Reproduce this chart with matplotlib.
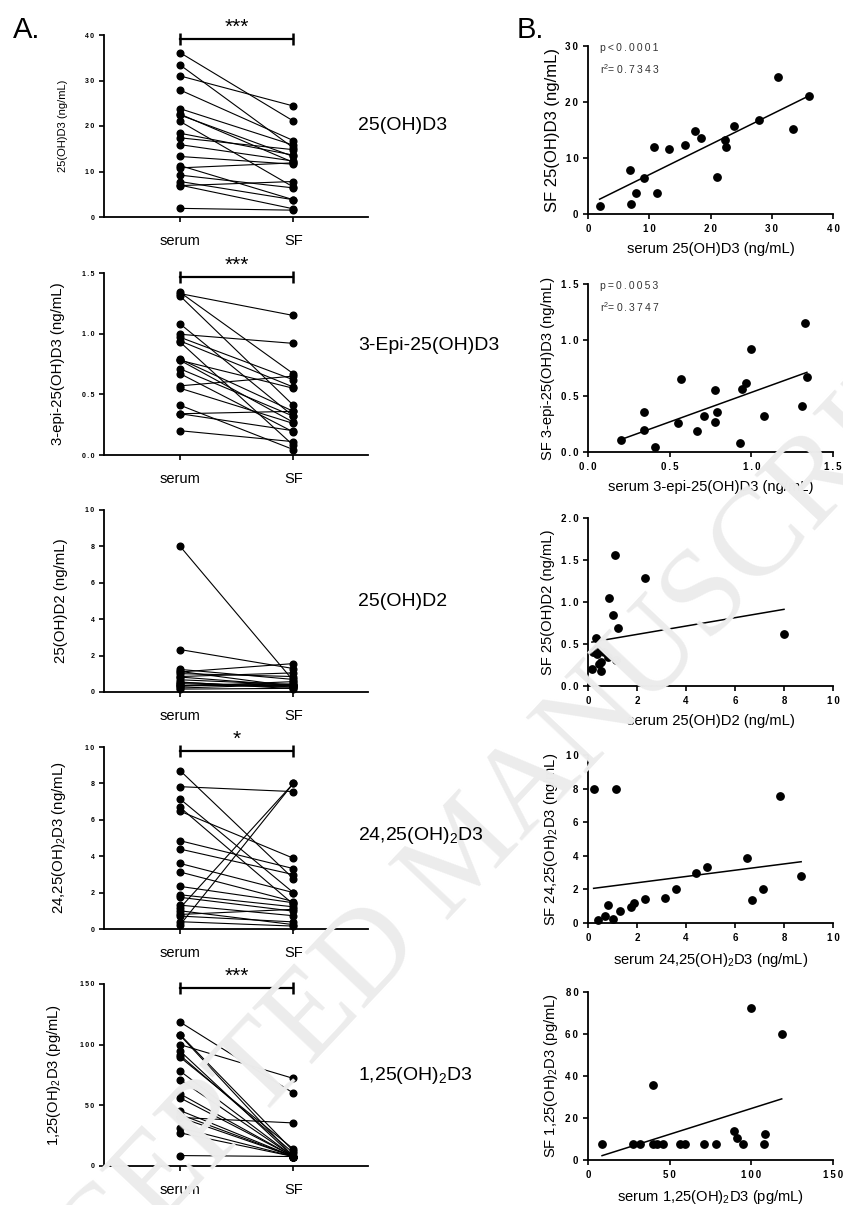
import numpy as np
import matplotlib.pyplot as plt

plt.rcParams['font.family'] = ['Liberation Sans', 'DejaVu Sans']
plt.rcParams['mathtext.fontset'] = 'custom'
plt.rcParams['mathtext.rm'] = 'Liberation Sans'

# paired serum / synovial fluid values, one list per metabolite
d3_serum = [1.9, 7.0, 6.9, 7.8, 9.2, 10.8, 11.3, 13.3, 15.9, 17.4, 18.4, 21.0, 22.4, 22.6, 23.8, 27.9, 31.0, 33.4, 36.1]
d3_sf = [1.5, 1.8, 7.8, 3.8, 6.4, 11.9, 3.8, 11.6, 12.3, 14.8, 13.6, 6.6, 13.3, 12.0, 15.8, 16.8, 24.4, 15.2, 21.1]

epi_serum = [0.20, 0.34, 0.34, 0.41, 0.55, 0.57, 0.67, 0.71, 0.78, 0.78, 0.79, 0.93, 0.94, 0.97, 0.995, 1.08, 1.31, 1.33, 1.34]
epi_sf = [0.11, 0.20, 0.36, 0.045, 0.26, 0.65, 0.19, 0.32, 0.55, 0.27, 0.36, 0.08, 0.56, 0.62, 0.92, 0.32, 0.41, 1.15, 0.67]

d2_serum = [0.16, 0.22, 0.31, 0.35, 0.38, 0.46, 0.52, 0.55, 0.67, 0.82, 0.85, 1.01, 1.10, 1.13, 1.24, 2.33, 8.0]
d2_sf = [0.20, 0.41, 0.57, 0.44, 0.38, 0.26, 0.28, 0.18, 0.41, 0.35, 1.05, 0.85, 1.56, 0.31, 0.69, 1.29, 0.62]

d24_serum = [0.23, 1.16, 7.82, 6.47, 4.85, 4.39, 8.7, 3.6, 7.14, 0.4, 0.71, 0.8, 1.0, 1.31, 1.74, 1.88, 2.34, 3.13, 6.68]
d24_sf = [8.0, 8.0, 7.55, 3.89, 3.32, 2.99, 2.77, 2.0, 2.0, 0.16, 0.39, 1.08, 0.24, 0.73, 0.98, 1.22, 1.44, 1.51, 1.36]

d125_serum = [8.6, 27.3, 31.6, 40.0, 40.0, 42.4, 45.7, 56.1, 59.4, 71.0, 78.2, 89.6, 91.2, 94.7, 100.0, 107.6, 108.2, 118.6]
d125_sf = [7.8, 7.8, 7.8, 35.5, 7.8, 7.8, 7.8, 7.8, 7.8, 7.8, 7.8, 14.0, 10.7, 7.8, 72.2, 7.8, 12.4, 60.1]

serums = [d3_serum, epi_serum, d2_serum, d24_serum, d125_serum]
sfs = [d3_sf, epi_sf, d2_sf, d24_sf, d125_sf]

names = ["25(OH)D3", "3-Epi-25(OH)D3", "25(OH)D2",
         "24,25(OH)$_\\mathregular{2}$D3", "1,25(OH)$_\\mathregular{2}$D3"]
left_ylabels = ["25(OH)D3 (ng/mL)", "3-epi-25(OH)D3 (ng/mL)", "25(OH)D2 (ng/mL)",
                "24,25(OH)$_\\mathregular{2}$D3 (ng/mL)", "1,25(OH)$_\\mathregular{2}$D3 (pg/mL)"]
right_ylabels = ["SF " + s for s in left_ylabels]
right_xlabels = ["serum " + s for s in left_ylabels]
left_yticks = [[0, 10, 20, 30, 40], [0.0, 0.5, 1.0, 1.5], [0, 2, 4, 6, 8, 10],
               [0, 2, 4, 6, 8, 10], [0, 50, 100, 150]]
right_xticks = [[0, 10, 20, 30, 40], [0.0, 0.5, 1.0, 1.5], [0, 2, 4, 6, 8, 10],
                [0, 2, 4, 6, 8, 10], [0, 50, 100, 150]]
right_yticks = [[0, 10, 20, 30], [0.0, 0.5, 1.0, 1.5], [0.0, 0.5, 1.0, 1.5, 2.0],
                [0, 2, 4, 6, 8, 10], [0, 20, 40, 60, 80]]
tick_fmt = ["%d", "%.1f", "%d", "%d", "%d"]
right_yfmt = ["%d", "%.1f", "%.1f", "%d", "%d"]
stars = ["***", "***", "", "*", "***"]
fit_slope = [0.54, 0.527, 0.0497, 0.187, 0.2457]
fit_intercept = [1.62, 0.005, 0.515, 2.02, -0.04]
stats = [("p<0.0001", "0.7343"), ("p=0.0053", "0.3747"), None, None, None]

W, H = 843, 1205
fig = plt.figure(figsize=(W / 100, H / 100), dpi=100)

fig.text(0.555, 0.29, "ACCEPTED MANUSCRIPT", family="Liberation Serif", fontsize=90,
         color="#ececec", rotation=46.7, ha="center", va="center", zorder=0)


def add_ax(x0, ybot, w, h):
    ax = fig.add_axes([x0 / W, 1 - ybot / H, w / W, h / H])
    ax.patch.set_visible(False)
    for s in ["top", "right"]:
        ax.spines[s].set_visible(False)
    for s in ["left", "bottom"]:
        ax.spines[s].set_linewidth(1.3)
    ax.tick_params(width=1.2, length=3.5, direction="out")
    return ax


def spaced(s, sep="\u2009"):
    return sep.join(s)


left_bottoms = [217, 455, 692, 929, 1166]
right_bottoms = [214, 452, 686, 923, 1160]
left_lab_size = [8, 10.8, 10.8, 10.8, 10.6]
right_lab_size = [12, 10.6, 10.6, 10.6, 10.6]
label_y = [126, 346, 601, 835, 1075]

for i in range(5):
    # A: paired serum vs SF
    ax = add_ax(104, left_bottoms[i], 264, 182)
    yt = left_yticks[i]
    for s, f in zip(serums[i], sfs[i]):
        ax.plot([0, 1], [s, f], color="black", lw=0.8, marker="o", ms=4.8, clip_on=False)
    ax.set_xlim(-0.673, 1.66)
    ax.set_ylim(yt[0], yt[-1])
    ax.set_yticks(yt)
    ax.set_yticklabels([spaced(tick_fmt[i] % v) for v in yt], fontsize=5, fontweight="bold")
    ax.set_xticks([0, 1])
    ax.set_xticklabels(["serum", "SF"], fontsize=10.5)
    ax.tick_params(axis="x", pad=9)
    ax.set_ylabel(left_ylabels[i], fontsize=left_lab_size[i], labelpad=12)
    if stars[i]:
        top = yt[-1]
        by = top - (top - yt[0]) * 0.02
        ax.plot([0, 1], [by, by], color="black", lw=1.6, marker="|", ms=9, mew=1.8, clip_on=False)
        ax.annotate(stars[i], (0.5, by), xytext=(0, 1), textcoords="offset points",
                    ha="center", va="bottom", fontsize=15, annotation_clip=False)

    fig.text(358 / W, 1 - label_y[i] / H, names[i], fontsize=14, ha="left", va="center")

    # B: correlation
    bx = add_ax(588, right_bottoms[i], 245, 168)
    bx.plot(serums[i], sfs[i], "o", color="black", ms=5.3, clip_on=False)
    xs = np.array([min(serums[i]), max(serums[i])])
    bx.plot(xs, fit_slope[i] * xs + fit_intercept[i], color="black", lw=1.1)
    xt, ytr = right_xticks[i], right_yticks[i]
    bx.set_xlim(xt[0], xt[-1])
    bx.set_ylim(ytr[0], ytr[-1])
    bx.set_xticks(xt)
    bx.set_yticks(ytr)
    bx.set_xticklabels([spaced(tick_fmt[i] % v) for v in xt], fontsize=7, fontweight="bold")
    bx.set_yticklabels([spaced(right_yfmt[i] % v) for v in ytr], fontsize=7, fontweight="bold")
    bx.set_xlabel(right_xlabels[i], fontsize=10.6, labelpad=6)
    bx.set_ylabel(right_ylabels[i], fontsize=right_lab_size[i], labelpad=4)
    if stats[i]:
        bx.text(0.05, 0.99, spaced(stats[i][0]), transform=bx.transAxes, fontsize=7.5,
                color="#333333", va="center")
        bx.text(0.05, 0.865, "r$^\\mathregular{2}$" + spaced("=" + stats[i][1]),
                transform=bx.transAxes, fontsize=7.5, color="#333333", va="center")

fig.text(13 / W, 1 - 30 / H, "A.", fontsize=21, va="center", ha="left")
fig.text(517 / W, 1 - 30 / H, "B.", fontsize=21, va="center", ha="left")

fig.savefig("out.png", dpi=100)
